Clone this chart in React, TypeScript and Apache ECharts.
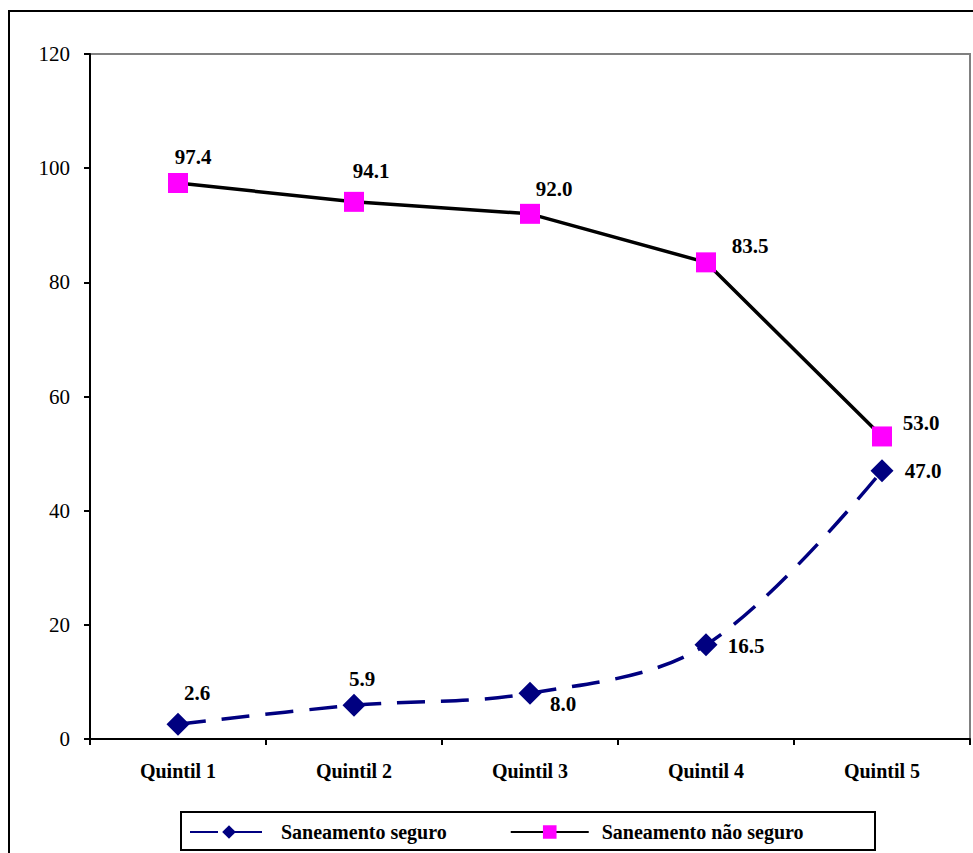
import React, { useEffect, useRef } from "react";
import * as echarts from "echarts";

const categories = ["Quintil 1", "Quintil 2", "Quintil 3", "Quintil 4", "Quintil 5"];
const seguro = [2.6, 5.9, 8.0, 16.5, 47.0];
const naoSeguro = [97.4, 94.1, 92.0, 83.5, 53.0];
const seriesNames = ["Saneamento seguro", "Saneamento não seguro"];
const yTicks = { min: 0, max: 120, interval: 20 };

// label offsets (layout only)
const seguroLabelOffsets: [number, number][] = [[19, -31], [8, -26], [33, 11], [40, 1], [41, 0]];
const naoSeguroLabelOffsets: [number, number][] = [[15, -26], [17, -31], [24, -25], [44, -16], [39, -13]];

const FONT = "Liberation Serif";

export default function App() {
  const ref = useRef<HTMLDivElement>(null);
  useEffect(() => {
    if (!ref.current) return;
    const chart = echarts.init(ref.current, undefined, { renderer: "svg" });
    const labelBase = {
      show: true,
      position: "inside",
      align: "center",
      verticalAlign: "middle",
      fontFamily: FONT,
      fontWeight: "bold",
      fontSize: 21,
      color: "#000",
      formatter: (p: any) => Number(p.value).toFixed(1),
    };
    chart.setOption({
      animation: false,
      backgroundColor: "#fff",
      grid: {
        left: 90,
        top: 54,
        right: 3,
        bottom: 114,
        show: true,
        borderColor: "#808080",
        borderWidth: 2,
        containLabel: false,
      },
      graphic: [
        {
          type: "rect",
          shape: { x: 9, y: 11, width: 1000, height: 900 },
          style: { fill: "none", stroke: "#000", lineWidth: 2 },
          silent: true,
          z: 100,
        },
        {
          type: "rect",
          shape: { x: 181, y: 812, width: 694, height: 38 },
          style: { fill: "none", stroke: "#000", lineWidth: 2 },
          silent: true,
          z: 100,
        },
      ],
      legend: {
        left: 180,
        top: 812,
        padding: [10, 0, 9, 9],
        itemWidth: 78,
        itemHeight: 17,
        itemGap: 63,
        formatter: "{a|{name}}",
        textStyle: {
          fontFamily: FONT,
          fontWeight: "bold",
          fontSize: 20,
          color: "#000",
          rich: {
            a: {
              fontFamily: FONT,
              fontWeight: "bold",
              fontSize: 20,
              color: "#000",
              width: 220,
              padding: [0, 0, 0, 8],
            },
          },
        },
        data: seriesNames,
      },
      xAxis: {
        type: "category",
        data: categories,
        boundaryGap: true,
        axisLine: { lineStyle: { color: "#000", width: 2 } },
        axisTick: { show: true, length: 6, lineStyle: { color: "#000", width: 2 } },
        axisLabel: {
          fontFamily: FONT,
          fontWeight: "bold",
          fontSize: 20,
          color: "#000",
          margin: 22,
        },
        splitLine: { show: false },
      },
      yAxis: {
        type: "value",
        min: yTicks.min,
        max: yTicks.max,
        interval: yTicks.interval,
        axisLine: { show: true, lineStyle: { color: "#000", width: 2 } },
        axisTick: { show: true, length: 6, lineStyle: { color: "#000", width: 2 } },
        axisLabel: { fontFamily: FONT, fontSize: 21, color: "#000", margin: 20 },
        splitLine: { show: false },
      },
      series: [
        {
          name: seriesNames[0],
          type: "line",
          smooth: 0.35,
          symbol: "diamond",
          symbolSize: 23,
          itemStyle: { color: "#000080" },
          lineStyle: { color: "#000080", width: 3.5, type: [28, 16] },
          data: seguro.map((v, i) => ({ value: v, label: { ...labelBase, offset: seguroLabelOffsets[i] } })),
          z: 3,
        },
        {
          name: seriesNames[1],
          type: "line",
          symbol: "rect",
          symbolSize: 20,
          itemStyle: { color: "#FF00FF" },
          lineStyle: { color: "#000", width: 3.5 },
          data: naoSeguro.map((v, i) => ({ value: v, label: { ...labelBase, offset: naoSeguroLabelOffsets[i] } })),
          z: 4,
        },
      ],
    });
    return () => chart.dispose();
  }, []);
  return (
    <div
      ref={ref}
      style={{ position: "absolute", left: 0, top: 0, width: 973, height: 853, background: "#fff" }}
    />
  );
}
